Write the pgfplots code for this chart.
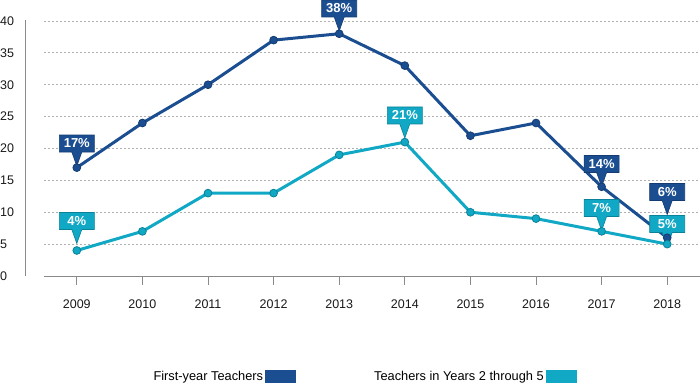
\documentclass[border=0pt]{standalone}
\usepackage{fontspec}
\setmainfont{Liberation Sans}
\usepackage{pgfplots}
\pgfplotsset{compat=1.18}
\usetikzlibrary{shapes.callouts}
\definecolor{dkblue}{HTML}{1B4E91}
\definecolor{dkedge}{HTML}{143C72}
\definecolor{cyanc}{HTML}{10A8C4}
\definecolor{cyanedge}{HTML}{0A8299}
\definecolor{gridc}{HTML}{B0B0B0}
\definecolor{axc}{HTML}{8A8A8A}
\tikzset{co/.style={rectangle callout, minimum width=35pt, minimum height=17pt, inner sep=1pt,
  callout relative pointer={(270:14pt)}, callout pointer width=10pt, text=white,
  font=\bfseries\fontsize{13}{13}\selectfont, line width=0.6pt}}
\begin{document}
\begin{tikzpicture}
\useasboundingbox (0,0) rectangle (700pt,387pt);
\begin{axis}[
  at={(44pt,111pt)}, anchor=south west,
  scale only axis, width=656pt, height=255pt,
  xmin=-0.5, xmax=9.5, ymin=0, ymax=40,
  xtick={0,1,2,3,4,5,6,7,8,9},
  xticklabels={2009,2010,2011,2012,2013,2014,2015,2016,2017,2018},
  ytick={0,5,10,15,20,25,30,35,40},
  axis lines*=left,
  x axis line style={draw=axc, line width=0.8pt},
  y axis line style={draw=none},
  ymajorgrids,
  grid style={draw=gridc, line width=0.8pt, dash pattern=on 2pt off 2pt},
  xtick style={draw=axc, line width=0.8pt},
  ytick style={draw=none},
  major tick length=9pt, tick align=outside,
  xticklabel style={yshift=-11pt},
  yticklabel style={anchor=west, xshift=-35pt, inner xsep=0pt},
  tick label style={font=\fontsize{12.5}{14}\selectfont, text=black!90},
  /pgf/number format/assume math mode=true,
  clip=false,
  legend plot pos=right,
  legend columns=2,
  legend style={at={(0.488,-0.396)}, anchor=center, draw=none, fill=none,
    font=\fontsize{12.8}{14}\selectfont, text=black,
    /tikz/every even column/.append style={column sep=76pt}},
]
\draw[axc, line width=0.8pt] ([xshift=-19pt]axis cs:-0.5,0) -- ([xshift=-19pt]axis cs:-0.5,40.2);
\addplot[dkblue, line width=3pt, mark=*, mark size=3.9pt,
  mark options={fill=dkblue, draw=dkedge, line width=0.8pt},
  legend image code/.code={\fill[dkblue] (0pt,-5pt) rectangle (28pt,5pt);}]
  coordinates {(0,17)(1,24)(2,30)(3,37)(4,38)(5,33)(6,22)(7,24)(8,14)(9,6)};
\addlegendentry{First-year Teachers}
\addplot[cyanc, line width=3pt, mark=*, mark size=3.9pt,
  mark options={fill=cyanc, draw=cyanedge, line width=0.8pt},
  legend image code/.code={\fill[cyanc] (0pt,-5pt) rectangle (28pt,5pt);}]
  coordinates {(0,4)(1,7)(2,13)(3,13)(4,19)(5,21)(6,10)(7,9)(8,7)(9,5)};
\addlegendentry{Teachers in Years 2 through 5}
\node[co, fill=dkblue, draw=dkedge] at (axis cs:0,20.78) {17\%};
\node[co, fill=dkblue, draw=dkedge] at (axis cs:4,41.96) {38\%};
\node[co, fill=dkblue, draw=dkedge] at (axis cs:8,17.57) {14\%};
\node[co, fill=dkblue, draw=dkedge] at (axis cs:9,13.18) {6\%};
\node[co, fill=cyanc, draw=cyanedge] at (axis cs:0,8.63) {4\%};
\node[co, fill=cyanc, draw=cyanedge] at (axis cs:5,25.18) {21\%};
\node[co, fill=cyanc, draw=cyanedge] at (axis cs:8,10.67) {7\%};
\node[co, fill=cyanc, draw=cyanedge] at (axis cs:9,8.16) {5\%};
\end{axis}
\end{tikzpicture}
\end{document}
